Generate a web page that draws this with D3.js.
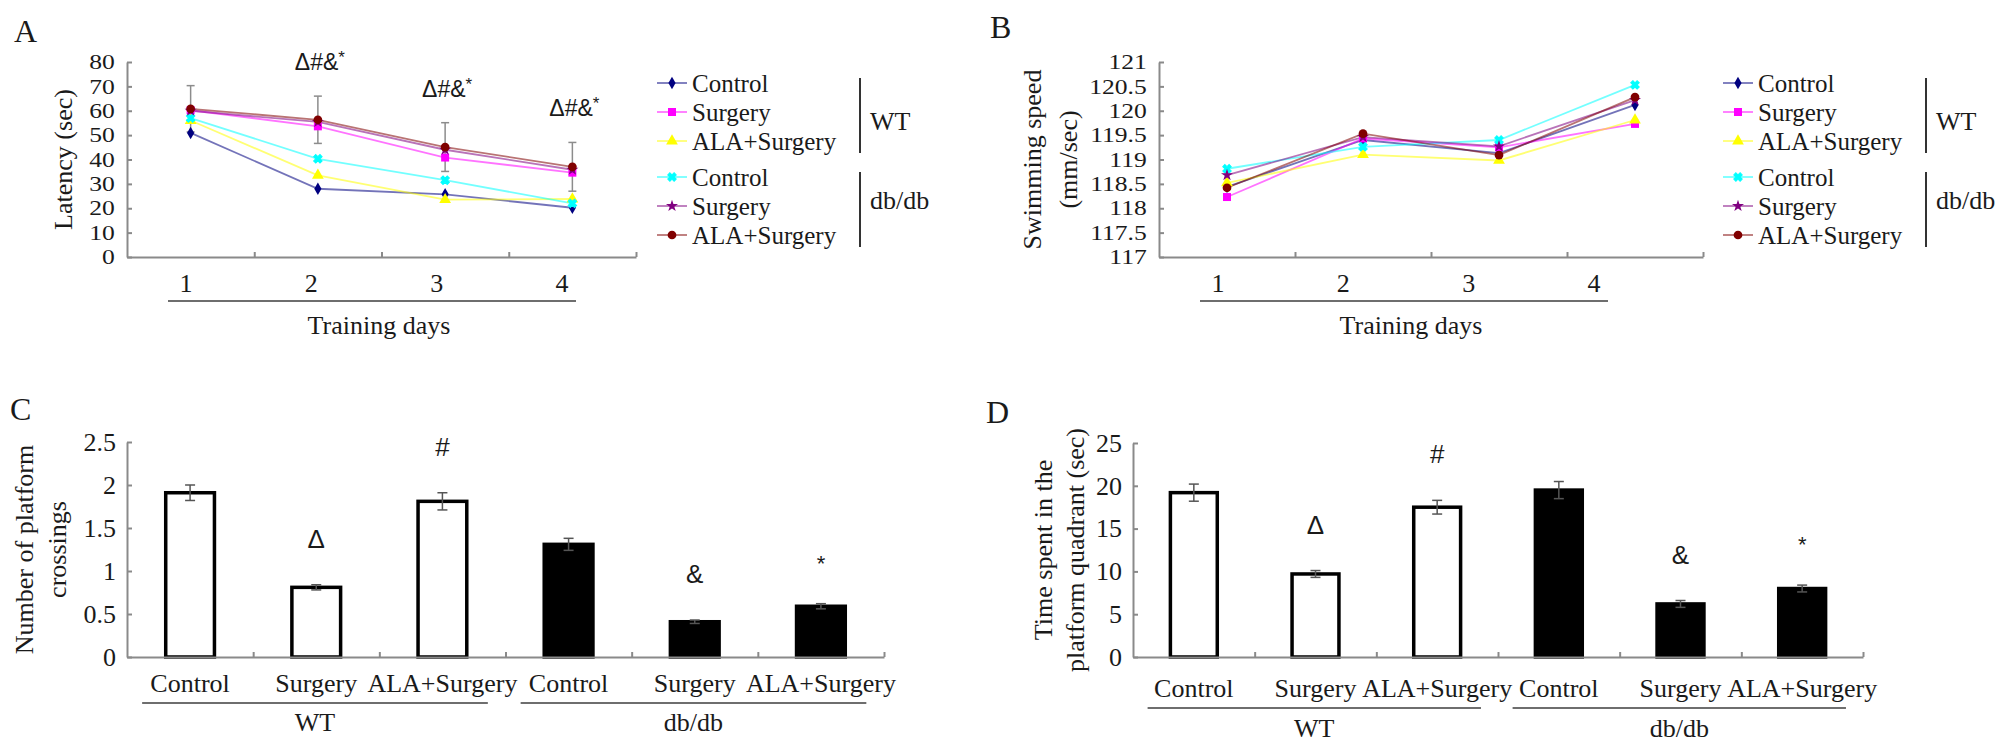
<!DOCTYPE html>
<html lang="en">
<head>
<meta charset="utf-8">
<title>Water maze | d3.js</title>
<style type="text/css">
	body {
		margin: 0px;
		padding: 0px;
		background-color: white;
	}
	svg {
		display: block;
	}
	text {
		font-family: 'Liberation Serif', 'Times New Roman', serif;
		fill: #1a1a1a;
	}
	text.sig, text.sig tspan {
		font-family: 'Liberation Sans', Arial, sans-serif;
	}
	.axis path, .axis line {
		stroke: #8a8a8a;
		stroke-width: 2px;
	}
</style>
</head>
<body>
<div id="chart"></div>
<script src="https://d3js.org/d3.v7.min.js"></script>
<script type="text/javascript">

	// ---- data ----
	const days = ["1", "2", "3", "4"];
	const groups = ["Control", "Surgery", "ALA+Surgery", "Control", "Surgery", "ALA+Surgery"];
	const strains = ["WT", "db/db"];

	// panel A, latency (sec), one row per group
	const latency = [
		[50.9, 28.0, 25.7, 20.2],
		[60.2, 53.6, 40.8, 34.6],
		[56.0, 33.5, 23.5, 23.8],
		[57.0, 40.3, 31.5, 22.0],
		[60.0, 55.4, 44.0, 35.8],
		[60.8, 56.3, 45.1, 37.0]
	];
	const latencyErr = [9.5, 9.7, 10.0, 10.0];
	const latencySig = ["", "Δ#&", "Δ#&", "Δ#&"];
	const latencyTicks = [0, 10, 20, 30, 40, 50, 60, 70, 80];

	// panel B, swimming speed (mm/sec)
	const speed = [
		[118.44, 119.40, 119.13, 120.12],
		[118.23, 119.43, 119.25, 119.73],
		[118.52, 119.10, 118.98, 119.81],
		[118.81, 119.26, 119.40, 120.53],
		[118.68, 119.46, 119.27, 120.22],
		[118.42, 119.53, 119.09, 120.28]
	];
	const speedTicks = [117, 117.5, 118, 118.5, 119, 119.5, 120, 120.5, 121];

	// panel C, platform crossings
	const crossings = [1.91, 0.81, 1.81, 1.31, 0.41, 0.59];
	const crossingsErr = [0.09, 0.03, 0.10, 0.07, 0.02, 0.03];
	const crossingsTicks = [0, 0.5, 1, 1.5, 2, 2.5];

	// panel D, time in platform quadrant (sec)
	const quadrant = [19.2, 9.7, 17.5, 19.5, 6.2, 8.0];
	const quadrantErr = [1.0, 0.4, 0.8, 1.0, 0.4, 0.4];
	const quadrantTicks = [0, 5, 10, 15, 20, 25];

	const barSig = ["", "Δ", "#", "", "&", "*"];

	// ---- styles ----
	const seriesColors = ["#000080", "#ff00ff", "#ffff00", "#00ffff", "#800080", "#800000"];
	const seriesSymbols = [
		{type: d3.symbolDiamond, size: 45, rot: 0},
		{type: d3.symbolSquare, size: 64, rot: 0},
		{type: d3.symbolTriangle, size: 60, rot: 0},
		{type: d3.symbolCross, size: 45, rot: 45},
		{type: d3.symbolStar, size: 45, rot: 0},
		{type: d3.symbolCircle, size: 60, rot: 0}
	];

	const plain = function(d){ return d; };

	const svg = d3.select("#chart")
		.append("svg")
		.attr("width", 2008)
		.attr("height", 750);

	createLinePanel({
		letter: "A", letterX: 14, letterY: 42,
		x0: 127, x1: 636, yTop: 62, yBot: 257,
		domain: [0, 80], ticks: latencyTicks,
		data: latency, err: latencyErr, sig: latencySig,
		title: ["Latency (sec)"], titleX: [-64],
		legendX: 657
	});

	createLinePanel({
		letter: "B", letterX: 990, letterY: 38,
		x0: 1159, x1: 1703, yTop: 62, yBot: 257,
		domain: [117, 121], ticks: speedTicks,
		data: speed, err: null, sig: null,
		title: ["Swimming speed", "(mm/sec)"], titleX: [-127, -91],
		legendX: 1723
	});

	createBarPanel({
		letter: "C", letterX: 10, letterY: 420,
		x0: 127, x1: 884, yTop: 442, yBot: 657,
		domain: [0, 2.5], ticks: crossingsTicks,
		values: crossings, err: crossingsErr,
		title: ["Number of platform", "crossings"], titleX: [-103, -70],
		labOff: [26, 46, 65]
	});

	createBarPanel({
		letter: "D", letterX: 986, letterY: 423,
		x0: 1133, x1: 1863, yTop: 443, yBot: 657,
		domain: [0, 25], ticks: quadrantTicks,
		values: quadrant, err: quadrantErr,
		title: ["Time spent in the", "platform quadrant (sec)"], titleX: [-90, -58],
		labOff: [31, 51, 71]
	});

	function addYTitle(g, opt){
		const cy = (opt.yTop + opt.yBot) / 2;
		opt.title.forEach(function(t, i){
			g.append("text")
				.attr("transform", "translate(" + (opt.x0 + opt.titleX[i]) + "," + cy + ") rotate(-90)")
				.attr("text-anchor", "middle")
				.attr("dy", "0.35em")
				.style("font-size", "26px")
				.text(t);
		});
	}

	function createLinePanel(opt){

		const g = svg.append("g");

		const x = d3.scaleBand()
			.domain(days)
			.range([opt.x0, opt.x1]);

		const xEdge = d3.scaleLinear()
			.domain([0, days.length])
			.range([opt.x0, opt.x1]);

		const y = d3.scaleLinear()
			.domain(opt.domain)
			.range([opt.yBot, opt.yTop]);

		const cx = function(i){ return x(days[i]) + x.bandwidth() / 2; };

		g.append("text")
			.attr("x", opt.letterX)
			.attr("y", opt.letterY)
			.style("font-size", "32px")
			.text(opt.letter);

		// tick labels are tightly packed, so a short font stretched sideways
		g.append("g")
			.attr("class", "axis")
			.attr("transform", "translate(" + opt.x0 + ",0)")
			.call(d3.axisLeft(y)
				.tickValues(opt.ticks)
				.tickFormat(plain)
				.tickSizeInner(-5)
				.tickSizeOuter(0)
				.tickPadding(10))
			.selectAll("text")
			.attr("transform", "scale(1.22,1)")
			.style("font-size", "21px");

		g.append("g")
			.attr("class", "axis")
			.attr("transform", "translate(0," + opt.yBot + ")")
			.call(d3.axisBottom(xEdge)
				.tickValues(d3.range(1, days.length + 1))
				.tickFormat("")
				.tickSizeInner(-5)
				.tickSizeOuter(0));

		// day labels sit a little left of the points, as in the figure
		const xLab = d3.scalePoint()
			.domain(days)
			.range([opt.x0 + 59, opt.x0 + 435]);

		g.selectAll(null)
			.data(days)
			.enter()
			.append("text")
			.attr("x", function(d){ return xLab(d); })
			.attr("y", opt.yBot + 26)
			.attr("dy", "0.35em")
			.attr("text-anchor", "middle")
			.style("font-size", "26px")
			.text(function(d){ return d; });

		g.append("line")
			.attr("x1", opt.x0 + 41)
			.attr("x2", opt.x0 + 449)
			.attr("y1", opt.yBot + 44)
			.attr("y2", opt.yBot + 44)
			.style("stroke", "#6e6e6e")
			.style("stroke-width", "2px");

		g.append("text")
			.attr("x", opt.x0 + 252)
			.attr("y", opt.yBot + 68)
			.attr("dy", "0.35em")
			.attr("text-anchor", "middle")
			.style("font-size", "26px")
			.text("Training days");

		addYTitle(g, opt);

		// error bars on the top series
		if (opt.err) {
			const top = opt.data[opt.data.length - 1];
			const eb = g.selectAll(null)
				.data(opt.err)
				.enter()
				.append("g")
				.style("stroke", "#8c8c8c")
				.style("stroke-width", "1.5px");
			eb.append("line")
				.attr("x1", function(_, i){ return cx(i); })
				.attr("x2", function(_, i){ return cx(i); })
				.attr("y1", function(d, i){ return y(top[i] + d); })
				.attr("y2", function(d, i){ return y(top[i] - d); });
			[1, -1].forEach(function(s){
				eb.append("line")
					.attr("x1", function(_, i){ return cx(i) - 4; })
					.attr("x2", function(_, i){ return cx(i) + 4; })
					.attr("y1", function(d, i){ return y(top[i] + s * d); })
					.attr("y2", function(d, i){ return y(top[i] + s * d); });
			});

			const marks = opt.sig
				.map(function(d, i){ return {label: d, i: i}; })
				.filter(function(d){ return d.label !== ""; });

			const sig = g.selectAll(null)
				.data(marks)
				.enter()
				.append("text")
				.attr("class", "sig")
				.attr("x", function(d){ return cx(d.i) + 2; })
				.attr("y", function(d){ return y(top[d.i] + opt.err[d.i]) - 26; })
				.attr("text-anchor", "middle")
				.style("font-size", "23px")
				.text(function(d){ return d.label; });
			sig.append("tspan")
				.attr("dy", -7)
				.style("font-size", "17px")
				.text("*");
		}

		const line = d3.line()
			.x(function(_, i){ return cx(i); })
			.y(function(d){ return y(d); });

		g.selectAll(null)
			.data(opt.data)
			.enter()
			.append("path")
			.attr("d", line)
			.style("fill", "none")
			.style("stroke", function(_, i){ return seriesColors[i]; })
			.style("stroke-opacity", 0.55)
			.style("stroke-width", "1.8px");

		opt.data.forEach(function(row, s){
			g.selectAll(null)
				.data(row)
				.enter()
				.append("path")
				.attr("d", d3.symbol().type(seriesSymbols[s].type).size(seriesSymbols[s].size))
				.attr("transform", function(d, i){
					return "translate(" + cx(i) + "," + y(d) + ") rotate(" + seriesSymbols[s].rot + ")";
				})
				.style("fill", seriesColors[s])
				.style("stroke", seriesSymbols[s].rot ? seriesColors[s] : "none");
		});

		// legend
		const rowY = function(i){ return 83 + i * 29 + (i >= 3 ? 7 : 0); };
		const lg = g.selectAll(null)
			.data(groups)
			.enter()
			.append("g")
			.attr("transform", function(_, i){ return "translate(" + opt.legendX + "," + rowY(i) + ")"; });
		lg.append("line")
			.attr("x1", 0)
			.attr("x2", 30)
			.style("stroke", function(_, i){ return seriesColors[i]; })
			.style("stroke-opacity", 0.55)
			.style("stroke-width", "1.8px");
		lg.append("path")
			.attr("d", function(_, i){ return d3.symbol().type(seriesSymbols[i].type).size(seriesSymbols[i].size)(); })
			.attr("transform", function(_, i){ return "translate(15,0) rotate(" + seriesSymbols[i].rot + ")"; })
			.style("fill", function(_, i){ return seriesColors[i]; })
			.style("stroke", function(_, i){ return seriesSymbols[i].rot ? seriesColors[i] : "none"; });
		lg.append("text")
			.attr("x", 35)
			.attr("dy", "0.35em")
			.style("font-size", "25px")
			.text(function(d){ return d; });

		strains.forEach(function(s, k){
			const bx = opt.legendX + 203;
			g.append("line")
				.attr("x1", bx)
				.attr("x2", bx)
				.attr("y1", rowY(k * 3) - 5)
				.attr("y2", rowY(k * 3 + 2) + 12)
				.style("stroke", "#333")
				.style("stroke-width", "2px");
			g.append("text")
				.attr("x", bx + 10)
				.attr("y", k === 0 ? rowY(1) + 9 : rowY(4) - 6)
				.attr("dy", "0.35em")
				.style("font-size", "26px")
				.text(s);
		});
	}

	function createBarPanel(opt){

		const g = svg.append("g");
		const ids = d3.range(groups.length);

		const x = d3.scaleBand()
			.domain(ids)
			.range([opt.x0, opt.x1])
			.paddingInner(0.59)
			.paddingOuter(0.295);

		const xEdge = d3.scaleLinear()
			.domain([0, groups.length])
			.range([opt.x0, opt.x1]);

		const bw = (opt.x1 - opt.x0) / groups.length;

		const y = d3.scaleLinear()
			.domain(opt.domain)
			.range([opt.yBot, opt.yTop]);

		const cx = function(i){ return x(i) + x.bandwidth() / 2; };

		g.append("text")
			.attr("x", opt.letterX)
			.attr("y", opt.letterY)
			.style("font-size", "32px")
			.text(opt.letter);

		g.selectAll(null)
			.data(opt.values)
			.enter()
			.append("rect")
			.attr("x", function(_, i){ return x(i) + 1.5; })
			.attr("width", x.bandwidth() - 3)
			.attr("y", function(d){ return y(d); })
			.attr("height", function(d){ return opt.yBot - y(d); })
			.style("fill", function(_, i){ return i < 3 ? "white" : "black"; })
			.style("stroke", "black")
			.style("stroke-width", "3.5px");

		g.append("g")
			.attr("class", "axis")
			.attr("transform", "translate(" + opt.x0 + ",0)")
			.call(d3.axisLeft(y)
				.tickValues(opt.ticks)
				.tickFormat(plain)
				.tickSizeInner(-5)
				.tickSizeOuter(0)
				.tickPadding(11))
			.selectAll("text")
			.style("font-size", "26px");

		g.append("g")
			.attr("class", "axis")
			.attr("transform", "translate(0," + opt.yBot + ")")
			.call(d3.axisBottom(xEdge)
				.tickValues(d3.range(1, groups.length + 1))
				.tickFormat("")
				.tickSizeInner(-5)
				.tickSizeOuter(0));

		// error bars
		const eb = g.selectAll(null)
			.data(opt.err)
			.enter()
			.append("g")
			.style("stroke", "#555")
			.style("stroke-width", "1.5px");
		eb.append("line")
			.attr("x1", function(_, i){ return cx(i); })
			.attr("x2", function(_, i){ return cx(i); })
			.attr("y1", function(d, i){ return y(opt.values[i] + d); })
			.attr("y2", function(d, i){ return y(opt.values[i] - d); });
		[1, -1].forEach(function(s){
			eb.append("line")
				.attr("x1", function(_, i){ return cx(i) - 5; })
				.attr("x2", function(_, i){ return cx(i) + 5; })
				.attr("y1", function(d, i){ return y(opt.values[i] + s * d); })
				.attr("y2", function(d, i){ return y(opt.values[i] + s * d); });
		});

		g.selectAll(null)
			.data(barSig)
			.enter()
			.append("text")
			.attr("class", "sig")
			.attr("x", function(_, i){ return cx(i); })
			.attr("y", function(d, i){ return y(opt.values[i] + opt.err[i]) - 45 + (d === "*" ? 12 : 8); })
			.attr("text-anchor", "middle")
			.style("font-size", function(d){ return d === "*" ? "22px" : "26px"; })
			.text(function(d){ return d; });

		g.selectAll(null)
			.data(groups)
			.enter()
			.append("text")
			.attr("x", function(_, i){ return xEdge(i) + bw / 2; })
			.attr("y", opt.yBot + opt.labOff[0])
			.attr("dy", "0.35em")
			.attr("text-anchor", "middle")
			.style("font-size", "26px")
			.text(function(d){ return d; });

		strains.forEach(function(s, k){
			const a = xEdge(k * 3) + 0.12 * bw,
				b = xEdge(k * 3 + 3) - 0.14 * bw;
			g.append("line")
				.attr("x1", a)
				.attr("x2", b)
				.attr("y1", opt.yBot + opt.labOff[1])
				.attr("y2", opt.yBot + opt.labOff[1])
				.style("stroke", "#6e6e6e")
				.style("stroke-width", "2px");
			g.append("text")
				.attr("x", (a + b) / 2)
				.attr("y", opt.yBot + opt.labOff[2])
				.attr("dy", "0.35em")
				.attr("text-anchor", "middle")
				.style("font-size", "26px")
				.text(s);
		});

		addYTitle(g, opt);
	}

</script>
</body>
</html>
